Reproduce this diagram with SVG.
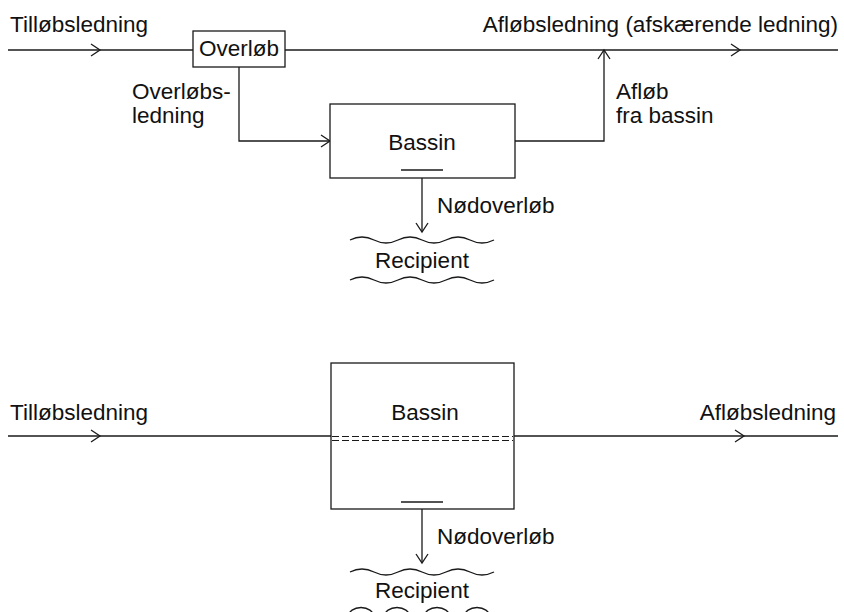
<svg xmlns="http://www.w3.org/2000/svg" xmlns:xlink="http://www.w3.org/1999/xlink" width="844" height="612" viewBox="0 0 844 612">
<style>
  .ln { fill: none; stroke: #1a1a1a; stroke-width: 1.3; }
  .box { fill: #ffffff; stroke: #1a1a1a; stroke-width: 1.3; }
  .dash { fill: none; stroke: #1a1a1a; stroke-width: 1.2; stroke-dasharray: 7 3; }
  .tx { font-family: "Liberation Sans", Arial, sans-serif; font-size: 22.5px; fill: #111; }
</style>
<defs>
  <path id="chev" d="M-9,-6 L0,0 L-9,6" fill="none" stroke="#1a1a1a" stroke-width="1.3"/>
  <path id="wave" d="M0,0 q12,-6 24,0 t24,0 t24,0 t24,0 t24,0 t24,0" fill="none" stroke="#1a1a1a" stroke-width="1.3"/>
</defs>
<rect width="844" height="612" fill="#ffffff"/>

<g id="connectors">
  <!-- top diagram -->
  <line class="ln" x1="8" y1="50" x2="193" y2="50"/>
  <line class="ln" x1="285" y1="50" x2="838" y2="50"/>
  <polyline class="ln" points="239,67 239,141 330,141"/>
  <polyline class="ln" points="515,141 604,141 604,50"/>
  <line class="ln" x1="401" y1="170" x2="443" y2="170"/>
  <line class="ln" x1="422" y1="170" x2="422" y2="232"/>
  <use xlink:href="#chev" transform="translate(100,50)"/>
  <use xlink:href="#chev" transform="translate(330,141)"/>
  <use xlink:href="#chev" transform="translate(604,50) rotate(-90)"/>
  <use xlink:href="#chev" transform="translate(740,50)"/>
  <use xlink:href="#chev" transform="translate(422,232) rotate(90)"/>
  <!-- bottom diagram -->
  <line class="ln" x1="8" y1="436" x2="331" y2="436"/>
  <line class="ln" x1="514" y1="436" x2="838" y2="436"/>
  <line class="ln" x1="401" y1="502" x2="443" y2="502"/>
  <line class="ln" x1="422" y1="502" x2="422" y2="563"/>
  <use xlink:href="#chev" transform="translate(100,436)"/>
  <use xlink:href="#chev" transform="translate(744,436)"/>
  <use xlink:href="#chev" transform="translate(422,563) rotate(90)"/>
</g>

<g id="overlob">
  <rect class="box" x="193" y="31" width="92" height="36"/>
  <text class="tx" x="239" y="56" text-anchor="middle">Overløb</text>
</g>

<g id="bassin-top">
  <rect class="box" x="330" y="104" width="185" height="74"/>
  <text class="tx" x="422" y="150" text-anchor="middle">Bassin</text>
  <line class="ln" x1="401" y1="170" x2="443" y2="170"/>
</g>

<g id="recipient-top">
  <use xlink:href="#wave" transform="translate(350,240)"/>
  <text class="tx" x="422" y="268" text-anchor="middle">Recipient</text>
  <use xlink:href="#wave" transform="translate(350,280)"/>
</g>

<g id="labels-top">
  <text class="tx" x="10" y="32">Tilløbsledning</text>
  <text class="tx" x="838" y="32" text-anchor="end">Afløbsledning (afskærende ledning)</text>
  <text class="tx" x="132" y="99">Overløbs-</text>
  <text class="tx" x="132" y="123">ledning</text>
  <text class="tx" x="616" y="99">Afløb</text>
  <text class="tx" x="616" y="123">fra bassin</text>
  <text class="tx" x="437" y="213">Nødoverløb</text>
</g>

<g id="bassin-bottom">
  <rect class="box" x="331" y="363" width="183" height="146"/>
  <text class="tx" x="425" y="420" text-anchor="middle">Bassin</text>
  <line class="dash" x1="332" y1="436.5" x2="513" y2="436.5"/>
  <line class="dash" x1="332" y1="440.5" x2="513" y2="440.5"/>
  <line class="ln" x1="401" y1="502" x2="443" y2="502"/>
</g>

<g id="recipient-bottom">
  <use xlink:href="#wave" transform="translate(350,572)"/>
  <text class="tx" x="422" y="598" text-anchor="middle">Recipient</text>
  <path class="ln" d="M348,618 C348,604 374,604 374,618 M384,618 C384,604 410,604 410,618 M424,618 C424,604 450,604 450,618 M464,618 C464,604 490,604 490,618"/>
</g>

<g id="labels-bottom">
  <text class="tx" x="10" y="420">Tilløbsledning</text>
  <text class="tx" x="836" y="420" text-anchor="end">Afløbsledning</text>
  <text class="tx" x="437" y="544">Nødoverløb</text>
</g>
</svg>
